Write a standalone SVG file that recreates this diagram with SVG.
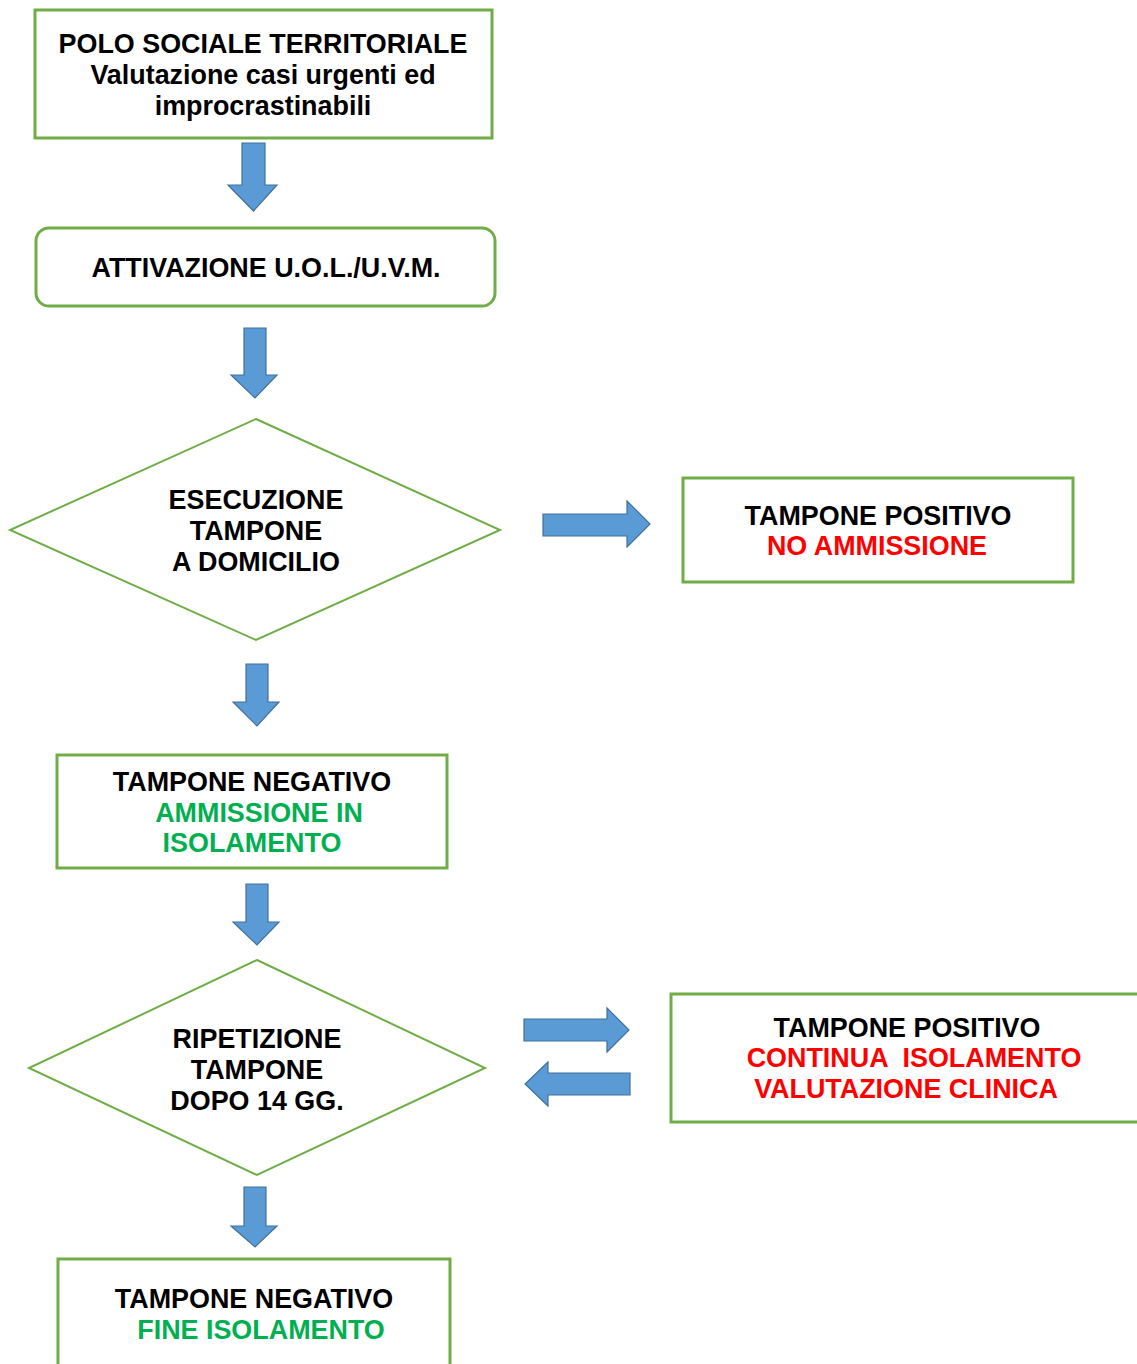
<svg xmlns="http://www.w3.org/2000/svg" width="1137" height="1364" viewBox="0 0 1137 1364">
<style>
.box{fill:#fff;stroke:#70AD47;stroke-width:3}
.dia{fill:#fff;stroke:#70AD47;stroke-width:2}
.arr{fill:#5B9BD5;stroke:#41719C;stroke-width:1.2}
text{font-family:"Liberation Sans",Arial,sans-serif;font-weight:bold;font-size:26.9px;text-anchor:middle;fill:#000}
.g{fill:#00B050}
.r{fill:#FF0000}
</style>
<rect width="1137" height="1364" fill="#fff"/>
<g id="connectors">
<path class="arr" d="M242,143 H265 V185 H277 L253.5,211 L228,185 H242 Z"/>
<path class="arr" d="M244,328 H266 V375 H277 L255,398 L231,375 H244 Z"/>
<path class="arr" d="M543,514 H627 V501 L650,524 L627,547 V536 H543 Z"/>
<path class="arr" d="M246,664 H268 V702 H279 L257,726 L233,702 H246 Z"/>
<path class="arr" d="M246,884 H268 V922 H279 L257,945 L233,922 H246 Z"/>
<path class="arr" d="M524,1019 H607 V1008 L629,1030 L607,1052 V1041 H524 Z"/>
<path class="arr" d="M630,1073 H548 V1062 L525,1084 L548,1106 V1095 H630 Z"/>
<path class="arr" d="M244,1187 H266 V1226 H277 L255,1247 L231,1226 H244 Z"/>
</g>
<g id="polo">
<rect class="box" x="35" y="10" width="457" height="128"/>
<text x="263" y="53">POLO SOCIALE TERRITORIALE</text>
<text x="263" y="84">Valutazione casi urgenti ed</text>
<text x="263" y="115">improcrastinabili</text>
</g>
<g id="attivazione">
<rect class="box" x="36" y="228" width="459" height="78" rx="13" stroke-width="2"/>
<text x="266" y="277">ATTIVAZIONE U.O.L./U.V.M.</text>
</g>
<g id="esecuzione">
<polygon class="dia" points="256,419 500,530 256,640 10,530"/>
<text x="256" y="509">ESECUZIONE</text>
<text x="256" y="540">TAMPONE</text>
<text x="256" y="571">A DOMICILIO</text>
</g>
<g id="positivo1">
<rect class="box" x="683" y="478" width="390" height="104"/>
<text x="878" y="525">TAMPONE POSITIVO</text>
<text class="r" x="877" y="555">NO AMMISSIONE</text>
</g>
<g id="negativo1">
<rect class="box" x="57" y="755" width="390" height="113"/>
<text x="252" y="791">TAMPONE NEGATIVO</text>
<text class="g" x="259" y="822">AMMISSIONE IN</text>
<text class="g" x="252" y="852">ISOLAMENTO</text>
</g>
<g id="ripetizione">
<polygon class="dia" points="257,960 485,1068 257,1175 29,1068"/>
<text x="257" y="1048">RIPETIZIONE</text>
<text x="257" y="1079">TAMPONE</text>
<text x="257" y="1110">DOPO 14 GG.</text>
</g>
<g id="positivo2">
<rect class="box" x="671" y="994" width="480" height="128"/>
<text x="907" y="1037">TAMPONE POSITIVO</text>
<text class="r" x="914" y="1067" xml:space="preserve">CONTINUA  ISOLAMENTO</text>
<text class="r" x="906" y="1098">VALUTAZIONE CLINICA</text>
</g>
<g id="negativo2">
<rect class="box" x="58" y="1259" width="392" height="120"/>
<text x="254" y="1308">TAMPONE NEGATIVO</text>
<text class="g" x="261" y="1339">FINE ISOLAMENTO</text>
</g>
</svg>
